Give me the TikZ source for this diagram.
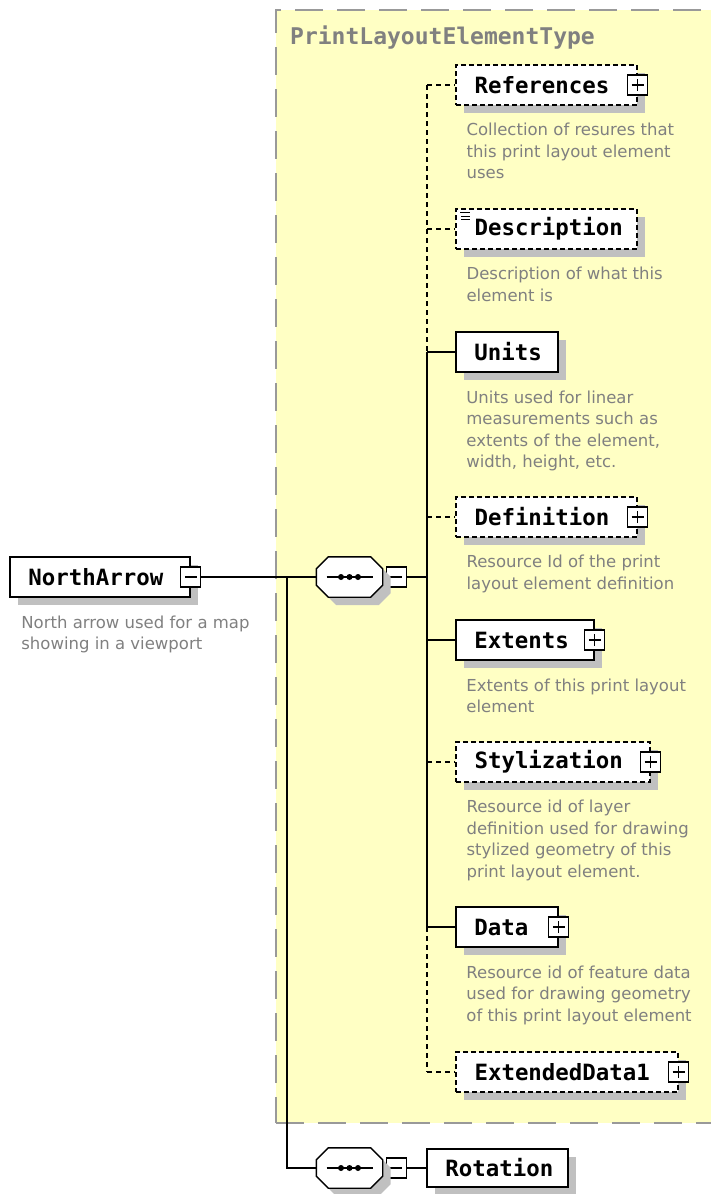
\documentclass[tikz,border=0pt]{standalone}
\usepackage{fontspec}
\setmainfont{DejaVu Sans}
\newfontfamily\labelfont{DejaVu Sans Mono}
\usetikzlibrary{shadows}

\definecolor{typefill}{HTML}{FFFFC4}
\definecolor{typeborder}{HTML}{999999}
\definecolor{doctext}{HTML}{808080}
\definecolor{shadowgray}{HTML}{C0C0C0}

% octagonal outline of a sequence compositor drawn around node #1
\newcommand\seqoutline[1]{%
  \path ([xshift=12pt]#1.north west) -- ([xshift=-12pt]#1.north east)
    -- ([yshift=-12pt]#1.north east) -- ([yshift=12pt]#1.south east)
    -- ([xshift=-12pt]#1.south east) -- ([xshift=12pt]#1.south west)
    -- ([yshift=12pt]#1.south west) -- ([yshift=-12pt]#1.north west) -- cycle;}

\begin{document}
\begin{tikzpicture}[x=1pt,y=-1pt,
  typebox/.style={draw=typeborder, fill=typefill, line width=2pt,
    dash pattern=on 28pt off 14pt, rectangle, inner sep=0},
  elem/.style={draw=black, fill=white, line width=1.6pt, rectangle,
    inner sep=0, minimum height=40pt,
    general shadow={fill=shadowgray, shadow xshift=8pt, shadow yshift=-8pt}},
  optelem/.style={elem, line width=1.3pt, dash pattern=on 5pt off 3pt},
  seqbox/.style={rectangle, inner sep=0, minimum width=66pt, minimum height=40pt},
  seqline/.style={draw=black, fill=white, line width=1.4pt},
  toggle/.style={draw=black, fill=white, line width=1.2pt, rectangle,
    inner sep=0, minimum size=20pt},
  plusbox/.style={toggle, path picture={
    \draw[line width=1.3pt]
      ([xshift=-6pt]path picture bounding box.center) --
      ([xshift=6pt]path picture bounding box.center)
      ([yshift=-6pt]path picture bounding box.center) --
      ([yshift=6pt]path picture bounding box.center);}},
  minusbox/.style={toggle, path picture={
    \draw[line width=1.3pt]
      ([xshift=-6pt]path picture bounding box.center) --
      ([xshift=6pt]path picture bounding box.center);}},
  lbl/.style={font=\labelfont\bfseries\fontsize{22.4}{22.4}\selectfont,
    inner sep=0, anchor=west},
  doc/.style={anchor=north west, align=left, inner sep=0, text=doctext,
    font=\fontsize{16.5}{21.5}\selectfont},
  conn/.style={draw=black, line width=1.5pt},
  optconn/.style={conn, dash pattern=on 5pt off 4pt}
]
\useasboundingbox (0,0) rectangle (710,1194);

% complex type frame
\node[typebox, minimum width=454pt, minimum height=1113pt] (ptype) at (503,566.5) {};
\node[lbl, text=doctext, font=\labelfont\bfseries\fontsize{23}{23}\selectfont]
  (ptype-l) at (290,38) {PrintLayoutElementType};

% trunk junctions of the sequence
\coordinate (tr-ref)  at (427,85);
\coordinate (tr-desc) at (427,229);
\coordinate (tr-unit) at (427,352);
\coordinate (tr-seq)  at (427,577);
\coordinate (tr-defn) at (427,517);
\coordinate (tr-ext)  at (427,640);
\coordinate (tr-styl) at (427,762);
\coordinate (tr-data) at (427,927);
\coordinate (tr-ext1) at (427,1072);
\coordinate (split)   at (287,577);

% root element
\node[elem, minimum width=180pt] (na) at (100,577) {};
\node[minusbox] (na-m) at (na.east) {};
\node[lbl] (na-l) at ([xshift=19pt]na.west) {NorthArrow};
\node[doc] (na-d) at ([shift={(12,17.5)}]na.south west)
  {North arrow used for a map\\showing in a viewport};

% sequence compositors
\node[seqbox] (seq1) at (349.5,577) {};
\node[minusbox, anchor=west] (seq1-m) at ([xshift=3pt]seq1.east) {};
\node[seqbox] (seq2) at (349.5,1168) {};
\node[minusbox, anchor=west] (seq2-m) at ([xshift=3pt]seq2.east) {};
\foreach \s in {seq1,seq2}{
  \begin{scope}[transform canvas={shift={(8pt,-8pt)}},
      every path/.style={fill=shadowgray}]\seqoutline{\s}\end{scope}
  \begin{scope}[every path/.style={seqline}]\seqoutline{\s}\end{scope}
  \draw[line width=1.4pt] ([xshift=-23pt]\s.center) -- ([xshift=23pt]\s.center);
  \foreach \dx in {-8.5,0,8.5}
    \fill ([xshift=\dx pt]\s.center) circle (3pt);
}

% connectors
\draw[conn] (na-m.east) -- (seq1.west);
\draw[conn] (split) |- (seq2.west);
\draw[conn] (seq1-m.east) -- (tr-seq);
\draw[optconn] (tr-ref) -- (tr-unit);
\draw[conn] (tr-unit) -- (tr-data);
\draw[optconn] (tr-data) -- (tr-ext1);

% child elements
\node[optelem, minimum width=181pt] (ref) at (546.5,85) {};
\node[plusbox] (ref-p) at (ref.east) {};
\node[lbl] (ref-l) at ([xshift=19pt]ref.west) {References};
\node[doc] (ref-d) at ([shift={(11,17.5)}]ref.south west)
  {Collection of resures that\\this print layout element\\uses};
\draw[optconn] (tr-ref) -- (ref.west);

\node[optelem, minimum width=181pt] (desc) at (546.5,229) {};
\draw[line width=1pt] (460,212.5) -- (470,212.5) (461,216) -- (470,216) (461,219.5) -- (470,219.5);
\node[lbl] (desc-l) at ([xshift=19pt]desc.west) {Description};
\node[doc] (desc-d) at ([shift={(11,17.5)}]desc.south west)
  {Description of what this\\element is};
\draw[optconn] (tr-desc) -- (desc.west);

\node[elem, minimum width=102pt] (unit) at (507,352) {};
\node[lbl] (unit-l) at ([xshift=19pt]unit.west) {Units};
\node[doc] (unit-d) at ([shift={(11,17.5)}]unit.south west)
  {Units used for linear\\measurements such as\\extents of the element,\\width, height, etc.};
\draw[conn] (tr-unit) -- (unit.west);

\node[optelem, minimum width=181pt] (defn) at (546.5,517) {};
\node[plusbox] (defn-p) at (defn.east) {};
\node[lbl] (defn-l) at ([xshift=19pt]defn.west) {Definition};
\node[doc] (defn-d) at ([shift={(11,17.5)}]defn.south west)
  {Resource Id of the print\\layout element definition};
\draw[optconn] (tr-defn) -- (defn.west);

\node[elem, minimum width=138pt] (ext) at (525,640) {};
\node[plusbox] (ext-p) at (ext.east) {};
\node[lbl] (ext-l) at ([xshift=19pt]ext.west) {Extents};
\node[doc] (ext-d) at ([shift={(11,17.5)}]ext.south west)
  {Extents of this print layout\\element};
\draw[conn] (tr-ext) -- (ext.west);

\node[optelem, minimum width=194pt] (styl) at (553,762) {};
\node[plusbox] (styl-p) at (styl.east) {};
\node[lbl] (styl-l) at ([xshift=19pt]styl.west) {Stylization};
\node[doc] (styl-d) at ([shift={(11,17.5)}]styl.south west)
  {Resource id of layer\\definition used for drawing\\stylized geometry of this\\print layout element.};
\draw[optconn] (tr-styl) -- (styl.west);

\node[elem, minimum width=102pt] (data) at (507,927) {};
\node[plusbox] (data-p) at (data.east) {};
\node[lbl] (data-l) at ([xshift=19pt]data.west) {Data};
\node[doc] (data-d) at ([shift={(11,17.5)}]data.south west)
  {Resource id of feature data\\used for drawing geometry\\of this print layout element};
\draw[conn] (tr-data) -- (data.west);

\node[optelem, minimum width=222pt] (ext1) at (567,1072) {};
\node[plusbox] (ext1-p) at (ext1.east) {};
\node[lbl] (ext1-l) at ([xshift=19pt]ext1.west) {ExtendedData1};
\draw[optconn] (tr-ext1) -- (ext1.west);

% second sequence child
\node[elem, minimum width=141pt, minimum height=38pt] (rot) at (497.5,1168) {};
\node[lbl] (rot-l) at ([xshift=19pt]rot.west) {Rotation};
\draw[conn] (seq2-m.east) -- (rot.west);
\end{tikzpicture}
\end{document}
